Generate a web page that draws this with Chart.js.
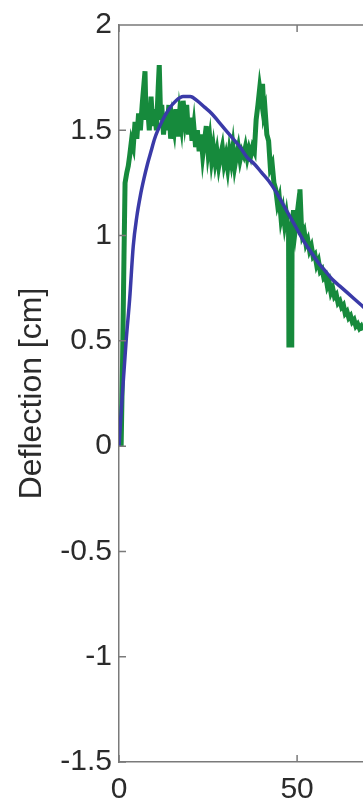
<!DOCTYPE html>
<html>
<head>
<meta charset="utf-8">
<script src="https://cdn.jsdelivr.net/npm/chart.js@4.4.1/dist/chart.umd.min.js"></script>
<style>
  html, body { margin: 0; padding: 0; background: #fff; }
  canvas { display: block; }
</style>
</head>
<body>
<canvas id="c" width="363" height="798"></canvas>
<script>
// ── Dados ──────────────────────────────────────────────────────────────────────
const modelX = [0, 1, 2, 3, 4, 5, 6, 7, 8, 9, 10, 12, 14, 16, 18, 20, 22, 24, 26, 28,
  30, 32, 34, 36, 38, 40, 42, 44, 46, 48, 50, 52, 54, 56, 58, 60, 62, 64, 66, 68, 70];
const modelY = [0, 0.26, 0.5, 0.7, 0.95, 1.09, 1.19, 1.27, 1.34, 1.4, 1.46, 1.54, 1.6, 1.64, 1.66, 1.66, 1.64, 1.61, 1.58, 1.54,
  1.5, 1.46, 1.42, 1.37, 1.34, 1.3, 1.26, 1.21, 1.15, 1.09, 1.03, 0.97, 0.92, 0.87, 0.83, 0.79, 0.76, 0.73, 0.7, 0.67, 0.64];

const measX = [0.6, 1.0, 1.4, 1.7, 2.2, 2.6, 3.0, 3.5, 4.0, 4.5, 5.0, 5.5, 6.0, 6.5, 7.0, 7.3, 7.6, 8.0, 8.5, 9.0,
  9.5, 10.0, 10.5, 11.0, 11.3, 11.7, 12.0, 12.5, 13.0, 13.5, 14.0, 14.5, 15.0, 15.5, 16.0, 16.5, 17.0, 17.5, 18.0, 18.5,
  19.0, 19.5, 20.0, 20.5, 21.0, 21.5, 22.0, 22.5, 23.0, 23.5, 24.0, 24.5, 25.0, 25.5, 26.0, 26.5, 27.0, 27.5, 28.0, 28.5,
  29.0, 29.5, 30.0, 30.5, 31.0, 31.5, 32.0, 32.5, 33.0, 33.5, 34.0, 34.5, 35.0, 35.5, 36.0, 36.5, 37.0, 37.5, 38.0, 38.5,
  39.0, 39.5, 40.0, 40.3, 40.7, 41.0, 41.5, 42.0, 42.5, 43.0, 43.5, 44.0, 44.5, 45.0, 45.5, 46.0, 46.5, 47.0, 47.6, 47.7,
  48.5, 48.6, 49.0, 49.5, 50.0, 50.5, 50.8, 51.2, 51.5, 52.0, 52.5, 53.0, 53.5, 54.0, 54.5, 55.0, 55.5, 56.0, 56.5, 57.0,
  57.5, 58.0, 58.5, 59.0, 59.5, 60.0, 60.5, 61.0, 61.5, 62.0, 62.5, 63.0, 63.5, 64.0, 64.5, 65.0, 65.5, 66.0, 66.5, 67.0,
  67.5, 68.0, 68.5, 69.0, 70.0];
const measY = [0, 0.4, 0.9, 1.25, 1.3, 1.33, 1.38, 1.45, 1.42, 1.54, 1.46, 1.58, 1.5, 1.62, 1.72, 1.78, 1.55, 1.62, 1.5, 1.66,
  1.52, 1.6, 1.5, 1.7, 1.81, 1.55, 1.62, 1.48, 1.58, 1.5, 1.62, 1.46, 1.55, 1.5, 1.6, 1.47, 1.58, 1.52, 1.64, 1.55,
  1.62, 1.48, 1.56, 1.45, 1.52, 1.42, 1.5, 1.4, 1.48, 1.38, 1.45, 1.52, 1.4, 1.46, 1.36, 1.42, 1.35, 1.4, 1.33, 1.38,
  1.42, 1.34, 1.38, 1.32, 1.4, 1.35, 1.42, 1.33, 1.38, 1.42, 1.36, 1.4, 1.38, 1.42, 1.37, 1.41, 1.38, 1.42, 1.4, 1.55,
  1.62, 1.7, 1.64, 1.72, 1.58, 1.6, 1.48, 1.45, 1.32, 1.34, 1.25, 1.22, 1.15, 1.18, 1.08, 1.12, 1.05, 1.1, 1.02, 0.48,
  0.48, 1.05, 1.12, 1.03, 1.1, 1.02, 1.22, 1.05, 1.0, 1.02, 0.96, 0.98, 0.93, 0.95, 0.9, 0.91, 0.86, 0.88, 0.83, 0.84,
  0.8, 0.81, 0.76, 0.78, 0.73, 0.75, 0.71, 0.72, 0.68, 0.69, 0.66, 0.67, 0.63, 0.64, 0.61, 0.62, 0.59, 0.6, 0.57, 0.58,
  0.56, 0.57, 0.55, 0.56, 0.53];

const xTicks = [0, 50];
const yTicks = [-1.5, -1, -0.5, 0, 0.5, 1, 1.5, 2];

const FONT = "'Liberation Sans', Arial, sans-serif";
const TEXT = '#2b2b2b';
const AXIS = '#7a7a7a';

// ── Moldura estilo MATLAB: linha de topo e ticks para dentro ──────────────────
const matlabBox = {
  id: 'matlabBox',
  afterDraw(chart) {
    const { ctx, chartArea: a, scales } = chart;
    ctx.save();
    ctx.strokeStyle = AXIS;
    ctx.lineWidth = 1.5;
    ctx.beginPath();
    ctx.moveTo(a.left, a.top);
    ctx.lineTo(a.right, a.top);
    scales.y.ticks.forEach(t => {
      const py = scales.y.getPixelForValue(t.value);
      ctx.moveTo(a.left, py);
      ctx.lineTo(a.left + 7, py);
    });
    scales.x.ticks.forEach(t => {
      const px = scales.x.getPixelForValue(t.value);
      ctx.moveTo(px, a.bottom);
      ctx.lineTo(px, a.bottom - 7);
      ctx.moveTo(px, a.top);
      ctx.lineTo(px, a.top + 7);
    });
    ctx.stroke();
    ctx.restore();
  },
};

new Chart(document.getElementById('c'), {
  type: 'line',
  data: {
    datasets: [
      {
        label: 'Model',
        data: modelX.map((x, i) => ({ x, y: modelY[i] })),
        borderColor: '#3a3aa8',
        borderWidth: 3.5,
        pointRadius: 0,
        tension: 0.4,
        cubicInterpolationMode: 'monotone',
        fill: false,
      },
      {
        label: 'Measured',
        data: measX.map((x, i) => ({ x, y: measY[i] })),
        borderColor: '#168a3c',
        borderWidth: 5,
        pointRadius: 0,
        tension: 0,
        fill: false,
      },
    ],
  },
  options: {
    responsive: false,
    animation: false,
    layout: { padding: { top: 22, right: 0, left: 0, bottom: 0 } },
    plugins: { legend: { display: false }, tooltip: { enabled: false } },
    scales: {
      x: {
        type: 'linear',
        min: 0,
        max: 68.5,
        afterBuildTicks: s => { s.ticks = xTicks.map(v => ({ value: v })); },
        afterFit: s => { s.height = 36; },
        ticks: {
          color: TEXT, font: { family: FONT, size: 30 }, padding: 10, maxRotation: 0,
          callback: v => String(v),
        },
        grid: { display: false, drawTicks: false },
        border: { color: AXIS, width: 1.5 },
      },
      y: {
        type: 'linear',
        min: -1.5,
        max: 2,
        afterBuildTicks: s => { s.ticks = yTicks.map(v => ({ value: v })); },
        afterFit: s => { s.width = 119; },
        ticks: {
          color: TEXT, font: { family: FONT, size: 30 }, padding: 7,
          callback: v => String(v),
        },
        grid: { display: false, drawTicks: false },
        border: { color: AXIS, width: 1.5 },
        title: {
          display: true,
          text: 'Deflection [cm]',
          color: TEXT,
          font: { family: FONT, size: 32 },
          padding: { top: 13, bottom: 0 },
        },
      },
    },
  },
  plugins: [matlabBox],
});
</script>
</body>
</html>
